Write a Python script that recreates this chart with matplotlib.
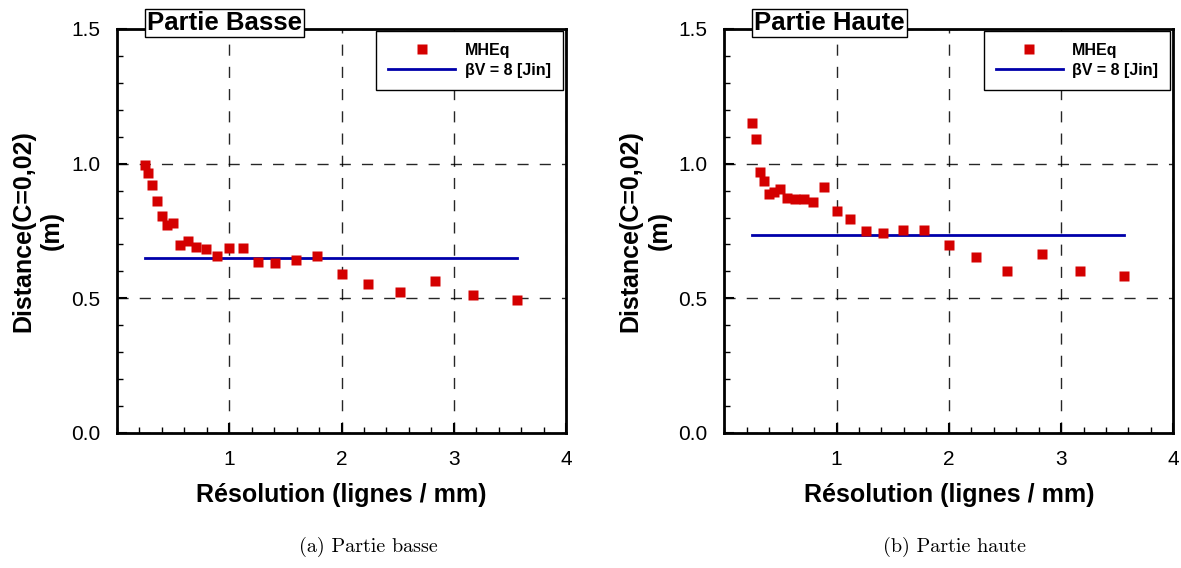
import numpy as np
import matplotlib.pyplot as plt
from matplotlib.ticker import MultipleLocator

# resolution values (lignes / mm)
res = [0.25, 0.28, 0.315, 0.354, 0.397, 0.445, 0.5, 0.56, 0.63, 0.707, 0.794, 0.891,
       1.0, 1.12, 1.26, 1.41, 1.59, 1.78, 2.0, 2.24, 2.52, 2.83, 3.17, 3.56]

# distance (C=0,02) in m
dist_basse = [0.995, 0.966, 0.921, 0.862, 0.806, 0.773, 0.780, 0.699, 0.711, 0.691, 0.684, 0.658,
              0.688, 0.688, 0.634, 0.631, 0.643, 0.656, 0.591, 0.554, 0.525, 0.565, 0.514, 0.495]
dist_haute = [1.151, 1.091, 0.969, 0.936, 0.888, 0.893, 0.906, 0.873, 0.869, 0.869, 0.858, 0.914,
              0.825, 0.795, 0.749, 0.743, 0.752, 0.754, 0.699, 0.654, 0.602, 0.665, 0.602, 0.584]

# Jin reference (beta V = 8)
jin_basse = 0.649
jin_haute = 0.735

titles = ['Partie Basse', 'Partie Haute']
captions = ['(a) Partie basse', '(b) Partie haute']
caption_x = [0.3116, 0.8078]

plt.rcParams['font.family'] = ['Liberation Sans', 'DejaVu Sans']

fig = plt.figure(figsize=(11.81, 5.68), dpi=100)
ax1 = fig.add_axes([0.0991, 0.2377, 0.3802, 0.7113])
ax2 = fig.add_axes([0.6133, 0.2377, 0.3802, 0.7113])

for ax, dist, jin, title, cap, cx in zip([ax1, ax2], [dist_basse, dist_haute],
                                         [jin_basse, jin_haute], titles, captions, caption_x):
    ax.plot([res[0], res[-1]], [jin, jin], color='#0000aa', lw=2, label='βV = 8 [Jin]', zorder=3)
    ax.plot(res, dist, 's', color='#d40000', ms=6.5, mec='none', label='MHEq', zorder=4)

    ax.set_xlim(0, 4)
    ax.set_ylim(0, 1.5)
    ax.xaxis.set_minor_locator(MultipleLocator(0.2))
    ax.yaxis.set_minor_locator(MultipleLocator(0.1))
    ax.set_xticks([1, 2, 3, 4])
    ax.set_xticklabels(['1', '2', '3', '4'])
    ax.set_yticks([0, 0.5, 1.0, 1.5])
    ax.set_yticklabels(['0.0', '0.5', '1.0', '1.5'])
    ax.tick_params(which='major', direction='in', length=7, width=1.5, labelsize=15, pad=12)
    ax.tick_params(which='minor', direction='in', length=4, width=1)
    for s in ax.spines.values():
        s.set_linewidth(2)

    ax.grid(True, which='major', color='k', lw=1, ls=(0, (8, 8)), alpha=0.85)

    ax.set_xlabel('Résolution (lignes / mm)', fontsize=18, fontweight='bold', labelpad=10)
    ax.set_ylabel('Distance(C=0,02)\n(m)', fontsize=18, fontweight='bold', labelpad=5,
                  linespacing=1.25)

    h, l = ax.get_legend_handles_labels()
    leg = ax.legend(h[::-1], l[::-1], loc='upper right', bbox_to_anchor=(0.993, 0.995),
                    borderaxespad=0, fancybox=False, edgecolor='k', framealpha=1,
                    prop={'weight': 'bold', 'size': 11.5}, handlelength=4.2, handletextpad=0.6,
                    numpoints=1, borderpad=0.75, labelspacing=0.3)
    leg.get_frame().set_linewidth(1)

    ax.text(0.067, 1.015, title, transform=ax.transAxes, ha='left', va='center',
            fontsize=18.5, fontweight='bold', zorder=10,
            bbox=dict(boxstyle='square,pad=0.08', fc='white', ec='k', lw=1), clip_on=False)

    fig.text(cx, (568 - 547) / 568, cap, ha='center', va='center', fontsize=14.5, family='cmr10')

fig.savefig('out.png', dpi=100)
